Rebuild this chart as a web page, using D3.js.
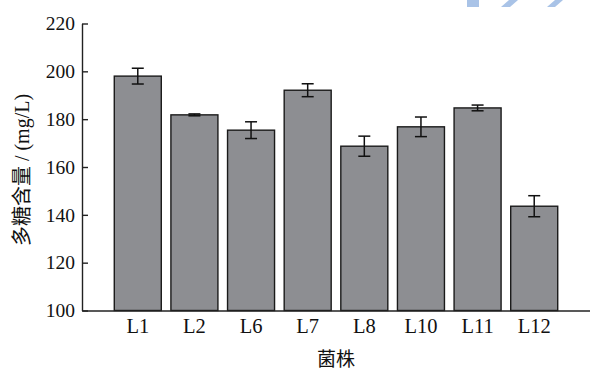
<!DOCTYPE html>
<html>
<head>
<meta charset="utf-8">
<script src="https://cdn.jsdelivr.net/npm/d3@7"></script>
<style>
  html, body { margin: 0; padding: 0; background: #fff; }
  svg { display: block; }
  .num { font-family: "Liberation Serif", "DejaVu Serif", serif; }
  .cjk { font-family: "Noto Sans CJK SC", sans-serif; }
</style>
</head>
<body>
<svg id="chart" width="590" height="374"></svg>
<script>
// Polysaccharide content by strain (mean ± error)
const strains = ["L1", "L2", "L6", "L7", "L8", "L10", "L11", "L12"];
const contents = [198.0, 181.8, 175.4, 192.1, 168.7, 176.8, 184.7, 143.6];
const errors = [3.3, 0.4, 3.5, 2.7, 4.2, 4.1, 1.2, 4.4];
const yTicks = [100, 120, 140, 160, 180, 200, 220];

const svg = d3.select("#chart");
const plotLeft = 82, plotRight = 590, plotTop = 23.5, plotBottom = 310.5;

const x = d3.scaleBand()
  .domain(strains)
  .range([plotLeft, plotRight])
  .paddingInner(0.17)
  .paddingOuter(0.57);

const y = d3.scaleLinear()
  .domain([100, 220])
  .range([plotBottom, plotTop]);

// decorative stripes at the top-right edge
const stripes = [[467, 479, 467, 479], [509, 518, 501, 510], [555, 563, 547, 555]];
svg.append("g").selectAll("polygon")
  .data(stripes)
  .join("polygon")
  .attr("points", d => `${d[0]},0 ${d[1]},0 ${d[3]},7 ${d[2]},7`)
  .attr("fill", "#a9c3e7");

// bars
svg.append("g").selectAll("rect")
  .data(strains)
  .join("rect")
  .attr("x", d => x(d))
  .attr("y", (d, i) => y(contents[i]))
  .attr("width", x.bandwidth())
  .attr("height", (d, i) => y(100) - y(contents[i]))
  .attr("fill", "#8d8e92")
  .attr("stroke", "#1a1a1a")
  .attr("stroke-width", 1.4);

// error bars
const eb = svg.append("g").attr("stroke", "#111").attr("stroke-width", 1.5).attr("fill", "none");
strains.forEach((s, i) => {
  const cx = x(s) + x.bandwidth() / 2;
  const y1 = y(contents[i] + errors[i]);
  const y0 = y(contents[i] - errors[i]);
  eb.append("line").attr("x1", cx).attr("x2", cx).attr("y1", y1).attr("y2", y0);
  eb.append("line").attr("x1", cx - 6).attr("x2", cx + 6).attr("y1", y1).attr("y2", y1);
  eb.append("line").attr("x1", cx - 6).attr("x2", cx + 6).attr("y1", y0).attr("y2", y0);
});

// y axis with inward ticks
const yAxis = svg.append("g")
  .attr("transform", `translate(${plotLeft},0)`)
  .call(d3.axisLeft(y).tickValues(yTicks).tickSizeInner(-6).tickSizeOuter(0).tickPadding(7));
yAxis.select(".domain").attr("stroke", "#222").attr("stroke-width", 1.4);
yAxis.selectAll(".tick line").attr("stroke", "#222").attr("stroke-width", 1.4);
yAxis.selectAll(".tick text")
  .attr("class", "num")
  .attr("font-size", 19.5)
  .attr("fill", "#111");

// x axis without tick marks
const xAxis = svg.append("g")
  .attr("transform", `translate(0,${plotBottom})`)
  .call(d3.axisBottom(x).tickSize(0).tickPadding(8));
xAxis.select(".domain").attr("stroke", "#222").attr("stroke-width", 1.4);
xAxis.selectAll(".tick text")
  .attr("class", "num")
  .attr("font-size", 20.5)
  .attr("fill", "#111");

// axis titles
svg.append("text")
  .attr("class", "cjk")
  .attr("x", (plotLeft + plotRight) / 2)
  .attr("y", 366)
  .attr("text-anchor", "middle")
  .attr("font-size", 19)
  .attr("fill", "#111")
  .text("菌株");

const yl = svg.append("text")
  .attr("transform", "translate(29,170) rotate(-90)")
  .attr("text-anchor", "middle")
  .attr("font-size", 20)
  .attr("fill", "#111");
yl.append("tspan").attr("class", "cjk").text("多糖含量");
yl.append("tspan").attr("class", "num").text(" / (mg/L)");
</script>
</body>
</html>
